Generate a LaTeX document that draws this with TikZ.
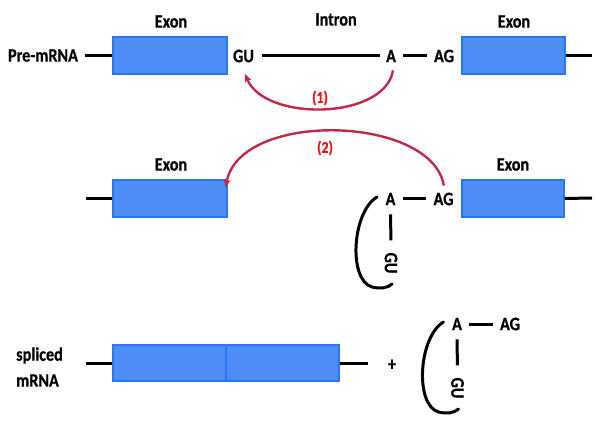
\documentclass[tikz,border=0pt]{standalone}
\usepackage{fontspec}
\setmainfont{Carlito}[BoldFeatures={FakeStretch=0.85,FakeBold=0.6}]
\usetikzlibrary{arrows.meta}
\definecolor{exfill}{RGB}{76,141,246}
\definecolor{exdraw}{RGB}{40,118,240}
\definecolor{arcred}{RGB}{194,40,72}
\definecolor{labred}{RGB}{232,20,20}
\begin{document}
\begin{tikzpicture}[x=1pt,y=-1pt,
  txt/.style={inner sep=0pt,font=\fontsize{19}{22}\selectfont\bfseries},
  small/.style={inner sep=0pt,font=\fontsize{16.5}{19}\selectfont\bfseries,text=labred},
  exon/.style={draw=exdraw,line width=1.2pt,fill=exfill,inner sep=0pt,minimum height=37pt},
  strand/.style={line width=3pt,black},
  redarc/.style={line width=2.4pt,arcred,-{Stealth[length=8pt,width=7pt,inset=2pt]}},
  bracket/.style={line width=3pt,line cap=round}]
\useasboundingbox (0,0) rectangle (595,425);
% ---------- row 1 ----------
\node[txt] (pre) at (43,55.5) {Pre-mRNA};
\node[exon,minimum width=114pt] (ex1) at (170,55.5) {};
\node[txt] (lex1) at (171,21.5) {Exon};
\node[txt] (GU1) at (243.5,56) {GU};
\node[txt] (intron) at (336,19.5) {Intron};
\node[txt] (A1) at (391,56) {A};
\node[txt] (AG1) at (444,56) {AG};
\node[exon,minimum width=103pt] (ex2) at (513.5,55.5) {};
\node[txt] (lex2) at (514,21.5) {Exon};
\coordinate (r1end) at (592,55.5);
\draw[strand,shorten <=7pt] (pre) -- (ex1.west);
\draw[strand,shorten <=8pt,shorten >=6pt] (GU1) -- (A1);
\draw[strand,shorten <=7pt,shorten >=7pt] (A1) -- (AG1);
\draw[strand] (ex2.east) -- (r1end);
\draw[redarc] ([xshift=2pt,yshift=-8pt]A1.south) .. controls (385,120) and (265,122) .. ([xshift=1.5pt,yshift=-11.5pt]GU1.south);
\node[small] (n1) at (320,98) {(1)};
% ---------- row 2 ----------
\coordinate (r2start) at (86,198.5);
\node[exon,minimum width=114pt] (ex3) at (170,198.5) {};
\node[txt] (lex3) at (171,164.5) {Exon};
\node[exon,minimum width=102pt] (ex4) at (513,198.5) {};
\node[txt] (lex4) at (513,164.5) {Exon};
\coordinate (r2end) at (592,198);
\draw[strand] (r2start) -- (ex3.west);
\draw[strand] (ex4.east) -- (r2end);
\begin{scope}[shift={(390.5,199)}]
  \node[txt] (A2) at (0,0) {A};
  \node[txt] (AG2) at (53,0) {AG};
  \node[txt,rotate=-90] (GU2) at (0.5,64) {GU};
  \draw[strand,shorten <=7pt,shorten >=7pt] (A2) -- (AG2);
  \draw[strand,shorten <=9pt,shorten >=12pt] (A2.south) -- (GU2.west);
  \draw[bracket] (-13.5,-2) .. controls (-38.5,13) and (-42.5,81) .. (-18.5,88) .. controls (-10.5,90) and (-2.5,89) .. (1.5,85);
\end{scope}
\draw[redarc,shorten <=7pt] ([xshift=1.5pt]AG2.north) .. controls (432,115) and (240,110) .. ([xshift=-2pt,yshift=-8pt]ex3.north east);
\node[small] (n2) at (325,148) {(2)};
% ---------- row 3 ----------
\node[txt,align=left,anchor=west,font=\fontsize{19}{26}\selectfont\bfseries] (spl) at (16,367) {spliced\\mRNA};
\coordinate (r3start) at (86,363);
\node[exon,minimum width=113pt,minimum height=36pt] (ex5) at (169.5,363) {};
\node[exon,minimum width=113pt,minimum height=36pt] (ex6) at (282.5,363) {};
\coordinate (r3end) at (368,363);
\draw[strand] (r3start) -- (ex5.west);
\draw[strand] (ex6.east) -- (r3end);
\node[txt] (plus) at (392,365) {+};
\begin{scope}[shift={(457,324)}]
  \node[txt] (A3) at (0,0) {A};
  \node[txt] (AG3) at (53,0) {AG};
  \node[txt,rotate=-90] (GU3) at (0.5,64) {GU};
  \draw[strand,shorten <=7pt,shorten >=7pt] (A3) -- (AG3);
  \draw[strand,shorten <=9pt,shorten >=12pt] (A3.south) -- (GU3.west);
  \draw[bracket] (-13.5,-2) .. controls (-38.5,13) and (-42.5,81) .. (-18.5,88) .. controls (-10.5,90) and (-2.5,89) .. (1.5,85);
\end{scope}
\end{tikzpicture}
\end{document}
